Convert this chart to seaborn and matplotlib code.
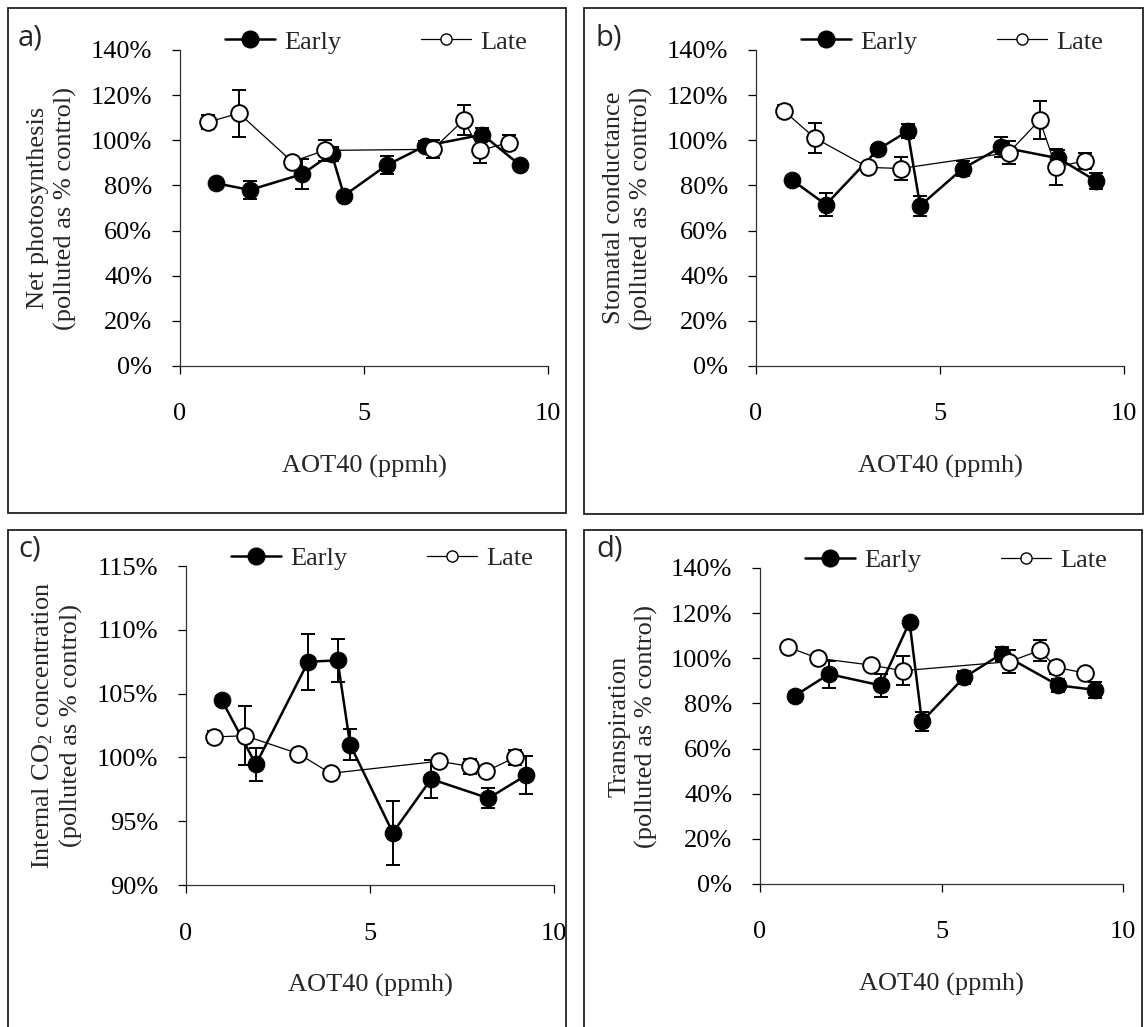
import matplotlib
matplotlib.use("Agg")
import matplotlib.pyplot as plt
import seaborn as sns
import pandas as pd
from matplotlib.lines import Line2D
from matplotlib.patches import Rectangle
from matplotlib.ticker import FuncFormatter

# AOT40 values (ppmh) shared by all panels
early_x = [0.97, 1.9, 3.32, 4.12, 4.46, 5.62, 6.66, 8.22, 9.24]
late_x = [0.76, 1.6, 3.05, 3.93, 6.87, 7.71, 8.15, 8.94]

# a) Net photosynthesis
early_a = [81, 78, 85, 94, 75.5, 89, 97.5, 102.5, 89]
early_a_err = [1.5, 4, 6.5, 3, 1.5, 4, 2, 3, 1.5]
late_a = [108, 112, 90.5, 95.5, 96, 109, 95.5, 99]
late_a_err = [3, 10.5, 2, 4.5, 4, 6.5, 5.5, 3.5]

# b) Stomatal conductance
early_b = [82.5, 71.5, 96, 104, 71, 87.5, 97, 92, 82]
early_b_err = [1.5, 5, 2, 3, 4.5, 3.5, 4.5, 3.5, 3.5]
late_b = [113, 101, 88, 87.5, 94.5, 109, 88, 91]
late_b_err = [2.5, 6.5, 2, 5, 5, 8.5, 8, 3.5]

# c) Internal CO2 concentration
early_c = [104.5, 99.45, 107.5, 107.6, 101.0, 94.1, 98.3, 96.8, 98.6]
early_c_err = [0.3, 1.3, 2.2, 1.7, 1.2, 2.5, 1.5, 0.8, 1.5]
late_c = [101.6, 101.7, 100.3, 98.75, 99.7, 99.3, 98.9, 100.0]
late_c_err = [0.5, 2.3, 0.2, 0.2, 0.3, 0.6, 0.2, 0.6]

# d) Transpiration
early_d = [83.5, 93, 88, 116, 72, 91.5, 102, 88, 86]
early_d_err = [1.5, 6, 5, 2, 4, 3, 3, 3, 3.5]
late_d = [105, 100, 97, 94.5, 98.5, 103.5, 96, 93.5]
late_d_err = [1.5, 1.5, 2, 6.5, 5, 4.5, 3, 1.5]

sns.set_style("ticks")
plt.rcParams["font.family"] = ["Liberation Serif", "DejaVu Serif"]
plt.rcParams["mathtext.fontset"] = "custom"
plt.rcParams["mathtext.rm"] = "Liberation Serif"
plt.rcParams["mathtext.it"] = "Liberation Serif:italic"

W, H = 1147, 1027
fig = plt.figure(figsize=(W / 100, H / 100), dpi=100)

panels = [
    # label, ylabel, early, early_err, late, late_err, ylim, yticks, axes px (left, right, top, bottom), box px, letter px
    ("a)", "Net photosynthesis\n(polluted as % control)", early_a, early_a_err, late_a, late_a_err,
     (0, 140), range(0, 141, 20), (180, 548, 50, 366), (8, 566, 8, 513), (18, 38)),
    ("b)", "Stomatal conductance\n(polluted as % control)", early_b, early_b_err, late_b, late_b_err,
     (0, 140), range(0, 141, 20), (756, 1124, 50, 366), (584, 1143, 8, 514), (596, 38)),
    ("c)", "Internal CO$_2$ concentration\n(polluted as % control)", early_c, early_c_err, late_c, late_c_err,
     (90, 115), range(90, 116, 5), (186, 554, 566, 885), (8, 566, 530, 1040), (18, 549)),
    ("d)", "Transpiration\n(polluted as % control)", early_d, early_d_err, late_d, late_d_err,
     (0, 140), range(0, 141, 20), (760, 1123, 568, 884), (584, 1142, 530, 1040), (596, 549)),
]

for label, ylab, ey, eerr, ly, lerr, ylim, yticks, axpx, boxpx, letpx in panels:
    l, r, t, b = axpx
    ax = fig.add_axes([l / W, 1 - b / H, (r - l) / W, (b - t) / H])

    # error bars first, then lines with markers
    ax.errorbar(early_x, ey, yerr=eerr, fmt="none", ecolor="black",
                elinewidth=1.4, capsize=5, capthick=1.4, zorder=2)
    sns.lineplot(x=early_x, y=ey, ax=ax, color="black", lw=1.8, marker="o",
                 markersize=12, markerfacecolor="black", markeredgecolor="black",
                 sort=False, estimator=None, zorder=3)
    ax.errorbar(late_x, ly, yerr=lerr, fmt="none", ecolor="black",
                elinewidth=1.4, capsize=5, capthick=1.4, zorder=4)
    sns.lineplot(x=late_x, y=ly, ax=ax, color="black", lw=0.9, marker="o",
                 markersize=12, markerfacecolor="white", markeredgecolor="black",
                 markeredgewidth=1.4, sort=False, estimator=None, zorder=5)

    ax.set_xlim(0, 10)
    ax.set_ylim(*ylim)
    ax.set_xticks([0, 5, 10])
    ax.set_yticks(list(yticks))
    ax.yaxis.set_major_formatter(FuncFormatter(lambda v, p: f"{v:.0f}%"))
    ax.tick_params(axis="both", direction="out", length=6, width=0.9,
                   colors="black", labelsize=19)
    ax.tick_params(axis="x", pad=21)
    ax.tick_params(axis="y", pad=14)
    sns.despine(ax=ax, top=True, right=True)
    for s in ("left", "bottom"):
        ax.spines[s].set_linewidth(0.9)
        ax.spines[s].set_color("#333333")
    ax.set_facecolor("none")

    ax.set_xlabel("AOT40 (ppmh)", fontsize=19)
    ax.xaxis.set_label_coords(0.5, -0.28)
    ax.xaxis.label.set_va("top")
    ax.set_ylabel(ylab, fontsize=19, linespacing=1.25)
    ax.yaxis.set_label_coords(-0.28, 0.5)

    handles = [
        Line2D([], [], color="black", lw=1.8, marker="o", markersize=12,
               markerfacecolor="black", markeredgecolor="black"),
        Line2D([], [], color="black", lw=0.9, marker="o", markersize=8,
               markerfacecolor="white", markeredgecolor="black"),
    ]
    ax.legend(handles, ["Early", "Late"], ncol=2, frameon=False,
              loc="center left", bbox_to_anchor=(45 / (r - l), 1 + 8 / (b - t)),
              borderpad=0, borderaxespad=0, handlelength=1.9,
              handletextpad=0.35, columnspacing=3.0, fontsize=19)

    bl, br, bt, bb = boxpx
    fig.patches.append(Rectangle((bl / W, 1 - bb / H), (br - bl) / W, (bb - bt) / H,
                                 transform=fig.transFigure, fill=False,
                                 edgecolor="#222222", lw=1.3))
    fig.text(letpx[0] / W, 1 - letpx[1] / H, label, fontsize=21,
             family=["Open Sans", "DejaVu Sans"], va="center", ha="left")

fig.savefig("out.png", dpi=100)
